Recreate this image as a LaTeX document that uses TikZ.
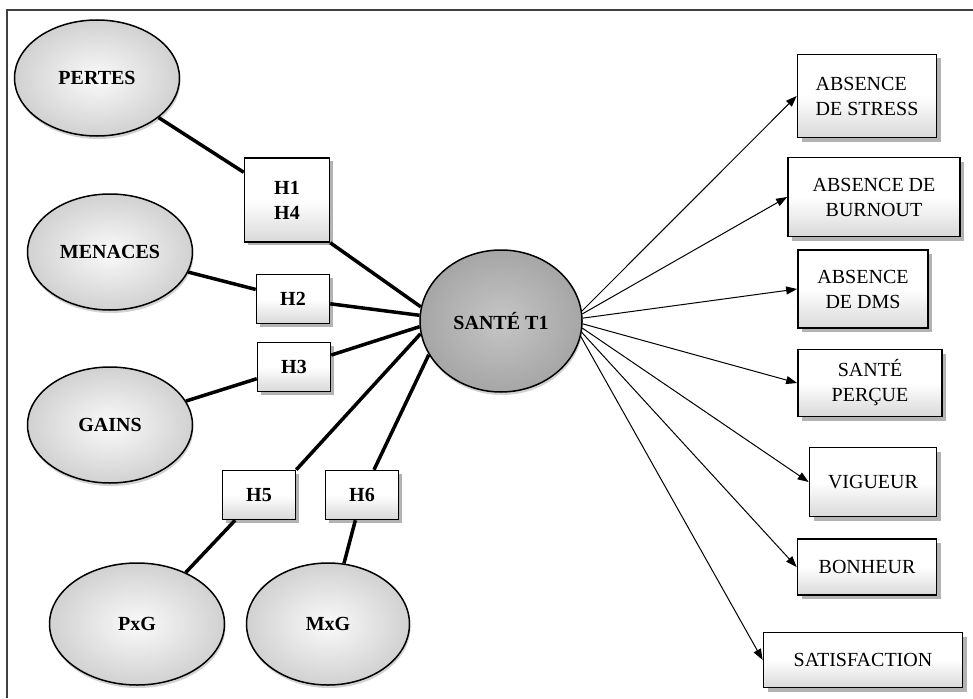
\documentclass[tikz,border=0pt]{standalone}
\usepackage{fontspec}
\setmainfont{Liberation Serif}
\usepackage{tikz}
\usetikzlibrary{positioning,shapes,arrows.meta,calc,shadows}

\begin{document}
\begin{tikzpicture}
  [
      x=1pt, y=-1pt,
      latent/.style={ellipse, draw, line width=1.5pt, shading=radial, inner color=gray!4, outer color=gray!36,
        minimum width=165pt, minimum height=116pt, inner sep=0pt,
        font=\fontsize{20}{25}\selectfont\bfseries,
        drop shadow={shadow xshift=1pt, shadow yshift=-3pt, opacity=0.35}},
      hyp/.style={rectangle, draw, line width=1.5pt, top color=white, bottom color=gray!30, middle color=white,
        minimum width=73pt, minimum height=49pt, align=center, inner sep=0pt,
        font=\fontsize{20}{25}\selectfont\bfseries,
        drop shadow={shadow xshift=3pt, shadow yshift=-3pt, opacity=0.6}},
      outc/.style={rectangle, draw, line width=1.7pt, top color=white, bottom color=gray!30, middle color=white,
        align=center, inner sep=0pt, font=\fontsize{20}{25}\selectfont,
        drop shadow={shadow xshift=4pt, shadow yshift=-4pt, opacity=0.6}},
      path/.style={line width=3.5pt},
      effect/.style={line width=1pt, -{Triangle[length=11pt,width=8pt]}},
    ]
    \useasboundingbox (0,0) rectangle (973,698);
    \draw [line width=1.5pt, black!75] (7,698) -- (7,10) -- (973,10);

    % predictors
    \node (pertes)  [latent] at (97,78) {PERTES};
    \node (menaces) [latent] at (110,252) {MENACES};
    \node (gains)   [latent] at (110,425) {GAINS};
    \node (pxg)     [latent, minimum width=175pt, minimum height=122pt] at (137,624) {PxG};
    \node (mxg)     [latent, minimum width=163pt, minimum height=122pt] at (328,624) {MxG};
    \node (sante)   [latent, inner color=gray!45, outer color=gray!70,
                     minimum width=162pt, minimum height=142pt] at (501,321) {SANTÉ T1};

    % hypotheses
    \node (h14) [hyp, minimum width=85pt, minimum height=84pt] at (287,200) {H1\\H4};
    \node (h2)  [hyp] at (293,299) {H2};
    \node (h3)  [hyp] at (294,367) {H3};
    \node (h5)  [hyp] at (259,495) {H5};
    \node (h6)  [hyp] at (362,495) {H6};

    % outcomes
    \node (stress)  [outc, minimum width=139pt, minimum height=83pt, align=left] at (867,96) {ABSENCE\\DE STRESS};
    \node (burnout) [outc, minimum width=172pt, minimum height=79pt] at (874,197) {ABSENCE DE\\BURNOUT};
    \node (dms)     [outc, minimum width=130pt, minimum height=78pt] at (863,289) {ABSENCE\\DE DMS};
    \node (percue)  [outc, minimum width=144pt, minimum height=67pt] at (870,383) {SANTÉ\\PERÇUE};
    \node (vigueur) [outc, minimum width=127pt, minimum height=69pt] at (873,482) {VIGUEUR};
    \node (bonheur) [outc, minimum width=139pt, minimum height=56pt] at (867,567) {BONHEUR};
    \node (satisf)  [outc, minimum width=199pt, minimum height=55pt] at (863,660) {SATISFACTION};

    \foreach \i/\j in {pertes/h14, menaces/h2, gains/h3, pxg/h5, mxg/h6}
      \draw [path] (\i) -- (\j);
    \foreach \i/\a in {h14.south east/170, h2/176, h3/184, h5.north east/189, h6/205}
      \draw [path] (\i) -- (sante.\a);
    \foreach \a/\j in {7/stress, 5/burnout, 2/dms, -2/percue, -5/vigueur, -8/bonheur, -11/satisf}
      \draw [effect] (sante.\a) -- (\j.west);
  \end{tikzpicture}
\end{document}
